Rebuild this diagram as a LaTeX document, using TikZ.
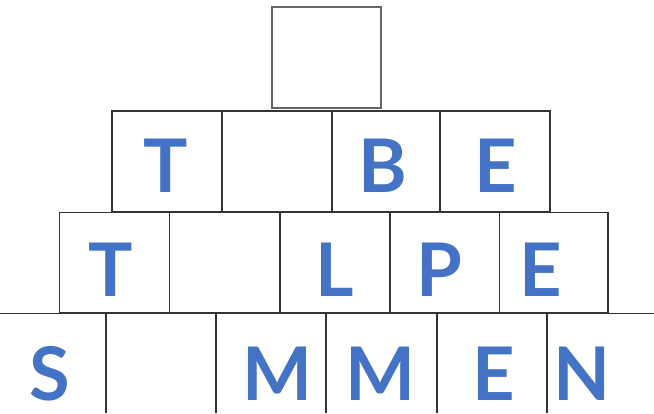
\documentclass[tikz,border=0pt]{standalone}
\usepackage{fontspec}
\setmainfont{Lato}
\definecolor{letterblue}{HTML}{4472C4}
\definecolor{gridline}{HTML}{333333}
\tikzset{
  cell/.style={draw=gridline, line width=1.1pt, rectangle, inner sep=0pt},
  ltr/.style={text=letterblue, font=\fontsize{74}{74}\selectfont\bfseries, inner sep=0pt, anchor=base}
}
\begin{document}
\begin{tikzpicture}[x=1pt,y=-1pt]
\useasboundingbox (0,0) rectangle (654,413);
% top box
\draw[cell, line width=1.4pt, draw=gray!80!black] (272,7) rectangle (381,108);
% row 2
\foreach \a/\b in {112/222,222/332,332/440,440/550}
  \draw[cell] (\a,111) rectangle (\b,211.5);
% row 3
\foreach \a/\b in {59.5/169.5,169.5/280,280/390,390/499.5,499.5/608}
  \draw[cell] (\a,212.5) rectangle (\b,313);
% row 4
\draw[cell] (0,313.3) -- (654,313.3);
\foreach \a in {106,216,326,437,547}
  \draw[cell] (\a,313.3) -- (\a,413);
% letters
\node[ltr] (r2t) at (165.5,192) {T};
\node[ltr] (r2b) at (382.5,192) {B};
\node[ltr] (r2e) at (495.5,192) {E};
\node[ltr] (r3t) at (111,296) {T};
\node[ltr] (r3l) at (335,296) {L};
\node[ltr] (r3p) at (439,296) {P};
\node[ltr] (r3e) at (541,296) {E};
\node[ltr] (r4s) at (49.5,400) {S};
\node[ltr] (r4m) at (277,400) {M};
\node[ltr] (r4m2) at (380,400) {M};
\node[ltr] (r4e) at (493.5,400) {E};
\node[ltr] (r4n) at (582,400) {N};
\end{tikzpicture}
\end{document}
